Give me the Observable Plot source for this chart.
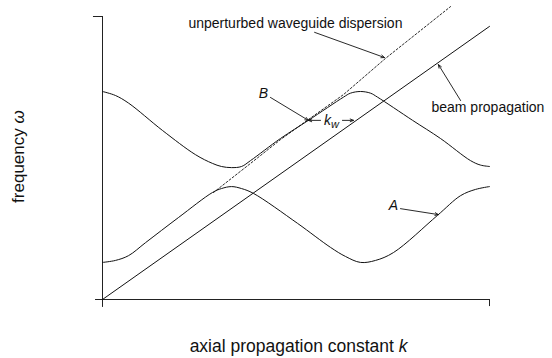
<!DOCTYPE html>
<html>
<head>
<meta charset="utf-8">
<script src="https://cdn.jsdelivr.net/npm/d3@7"></script>
<script src="https://cdn.jsdelivr.net/npm/@observablehq/plot@0.6"></script>
<style>
  html, body { margin: 0; padding: 0; background: #fff; }
  #chart svg { display: block; }
</style>
</head>
<body>
<div id="chart"></div>
<script>
// Axial propagation constant k (units of wiggler k_w) and frequency ω (normalized)
const upperK = [0, 0.05, 0.101, 0.233, 0.360, 0.426, 0.461, 0.5, 0.539, 0.574, 0.690, 0.798, 0.934, 0.961, 1.0, 1.039, 1.066, 1.202, 1.310, 1.426, 1.465, 1.5];
const upperW = [0.735, 0.721, 0.694, 0.597, 0.512, 0.481, 0.470, 0.466, 0.470, 0.491, 0.569, 0.633, 0.715, 0.729, 0.735, 0.729, 0.715, 0.633, 0.569, 0.491, 0.475, 0.470];

const lowerK = [0, 0.05, 0.101, 0.167, 0.295, 0.426, 0.461, 0.5, 0.539, 0.585, 0.756, 0.884, 0.942, 1.0, 1.058, 1.128, 1.298, 1.388, 1.446, 1.5];
const lowerW = [0.131, 0.138, 0.155, 0.201, 0.290, 0.378, 0.392, 0.399, 0.392, 0.375, 0.269, 0.184, 0.152, 0.131, 0.138, 0.166, 0.297, 0.367, 0.389, 0.399];

const dispK = [0.430, 0.574, 0.690, 0.798, 0.934, 1.097, 1.349];
const dispW = [0.378, 0.481, 0.565, 0.636, 0.724, 0.852, 1.035];

const beamK = [0, 1.5];
const beamW = [0, 0.965];

const xLabel = "axial propagation constant k";
const yLabel = "frequency ω";

const toPts = (ks, ws) => ks.map((k, i) => ({k, w: ws[i]}));
const upper = toPts(upperK, upperW);
const lower = toPts(lowerK, lowerW);
const disp = toPts(dispK, dispW);
const beam = toPts(beamK, beamW);

// annotation layout (in data coordinates)
const labels = [
  {k: 0.333, w: 0.975, text: "unperturbed waveguide dispersion", italic: false},
  {k: 1.275, w: 0.68, text: "beam propagation", italic: false},
  {k: 0.624, w: 0.728, text: "B", italic: true},
  {k: 1.128, w: 0.332, text: "A", italic: true}
];
const arrows = [
  {k1: 0.822, w1: 0.944, k2: 1.093, w2: 0.855},   // dispersion
  {k1: 1.388, w1: 0.703, k2: 1.302, w2: 0.830},   // beam
  {k1: 0.651, w1: 0.714, k2: 0.798, w2: 0.633},   // B
  {k1: 1.155, w1: 0.321, k2: 1.302, w2: 0.300},   // A
  {k1: 0.845, w1: 0.633, k2: 0.798, w2: 0.633},   // k_w left
  {k1: 0.930, w1: 0.633, k2: 0.973, w2: 0.633}    // k_w right
];

const font = "Liberation Sans, Arial, Helvetica, sans-serif";

const chart = Plot.plot({
  width: 552,
  height: 358,
  marginLeft: 102,
  marginRight: 63,
  marginTop: 16,
  marginBottom: 59,
  x: {domain: [0, 1.5], axis: null},
  y: {domain: [0, 1], axis: null},
  style: {background: "#fff", fontFamily: font},
  marks: [
    // axes
    Plot.ruleY([0], {x1: -0.027, x2: 1.5, stroke: "#222", strokeWidth: 1}),
    Plot.ruleX([0], {y1: -0.028, y2: 1.0, stroke: "#222", strokeWidth: 1}),
    Plot.ruleY([1.0], {x1: -0.035, x2: 0, stroke: "#222", strokeWidth: 1}),
    Plot.ruleX([1.5], {y1: -0.025, y2: 0, stroke: "#222", strokeWidth: 1}),
    // curves
    Plot.line(disp, {x: "k", y: "w", stroke: "#111", strokeWidth: 0.9, strokeDasharray: "2,2"}),
    Plot.line(beam, {x: "k", y: "w", stroke: "#111", strokeWidth: 1}),
    Plot.line(upper, {x: "k", y: "w", curve: "catmull-rom", stroke: "#111", strokeWidth: 1}),
    Plot.line(lower, {x: "k", y: "w", curve: "catmull-rom", stroke: "#111", strokeWidth: 1}),
    // arrows
    Plot.arrow(arrows, {x1: "k1", y1: "w1", x2: "k2", y2: "w2", stroke: "#111", strokeWidth: 0.9, headLength: 6, headAngle: 45}),
    // labels
    Plot.text(labels.filter(d => !d.italic), {x: "k", y: "w", text: "text", textAnchor: "start", fontSize: 14, fill: "#111"}),
    Plot.text(labels.filter(d => d.italic), {x: "k", y: "w", text: "text", textAnchor: "middle", fontSize: 14, fontStyle: "italic", fill: "#111"}),
    Plot.text([{k: 0.887, w: 0.633}], {x: "k", y: "w", text: () => "kw", textAnchor: "middle", fontSize: 14, fontStyle: "italic", fill: "#111"}),
    Plot.text([{k: 0.76, w: -0.165}], {x: "k", y: "w", text: () => xLabel, textAnchor: "middle", fontSize: 17.5, fill: "#111"}),
    Plot.text([{k: -0.325, w: 0.505}], {x: "k", y: "w", text: () => yLabel, textAnchor: "middle", rotate: -90, fontSize: 17, fill: "#111"})
  ]
});

// rich-text tweaks: subscript w, italic k and ω
d3.select(chart).selectAll("text").each(function() {
  const t = d3.select(this);
  const s = t.text();
  if (s === "kw") {
    t.text(null);
    t.append("tspan").text("k");
    t.append("tspan").attr("dy", "0.3em").attr("font-size", "11").text("w");
  } else if (s === xLabel) {
    t.text(null);
    t.append("tspan").text("axial propagation constant ");
    t.append("tspan").attr("font-style", "italic").text("k");
  } else if (s === yLabel) {
    t.text(null);
    t.append("tspan").text("frequency ");
    t.append("tspan").attr("font-style", "italic").text("ω");
  }
});

document.getElementById("chart").append(chart);
</script>
</body>
</html>
